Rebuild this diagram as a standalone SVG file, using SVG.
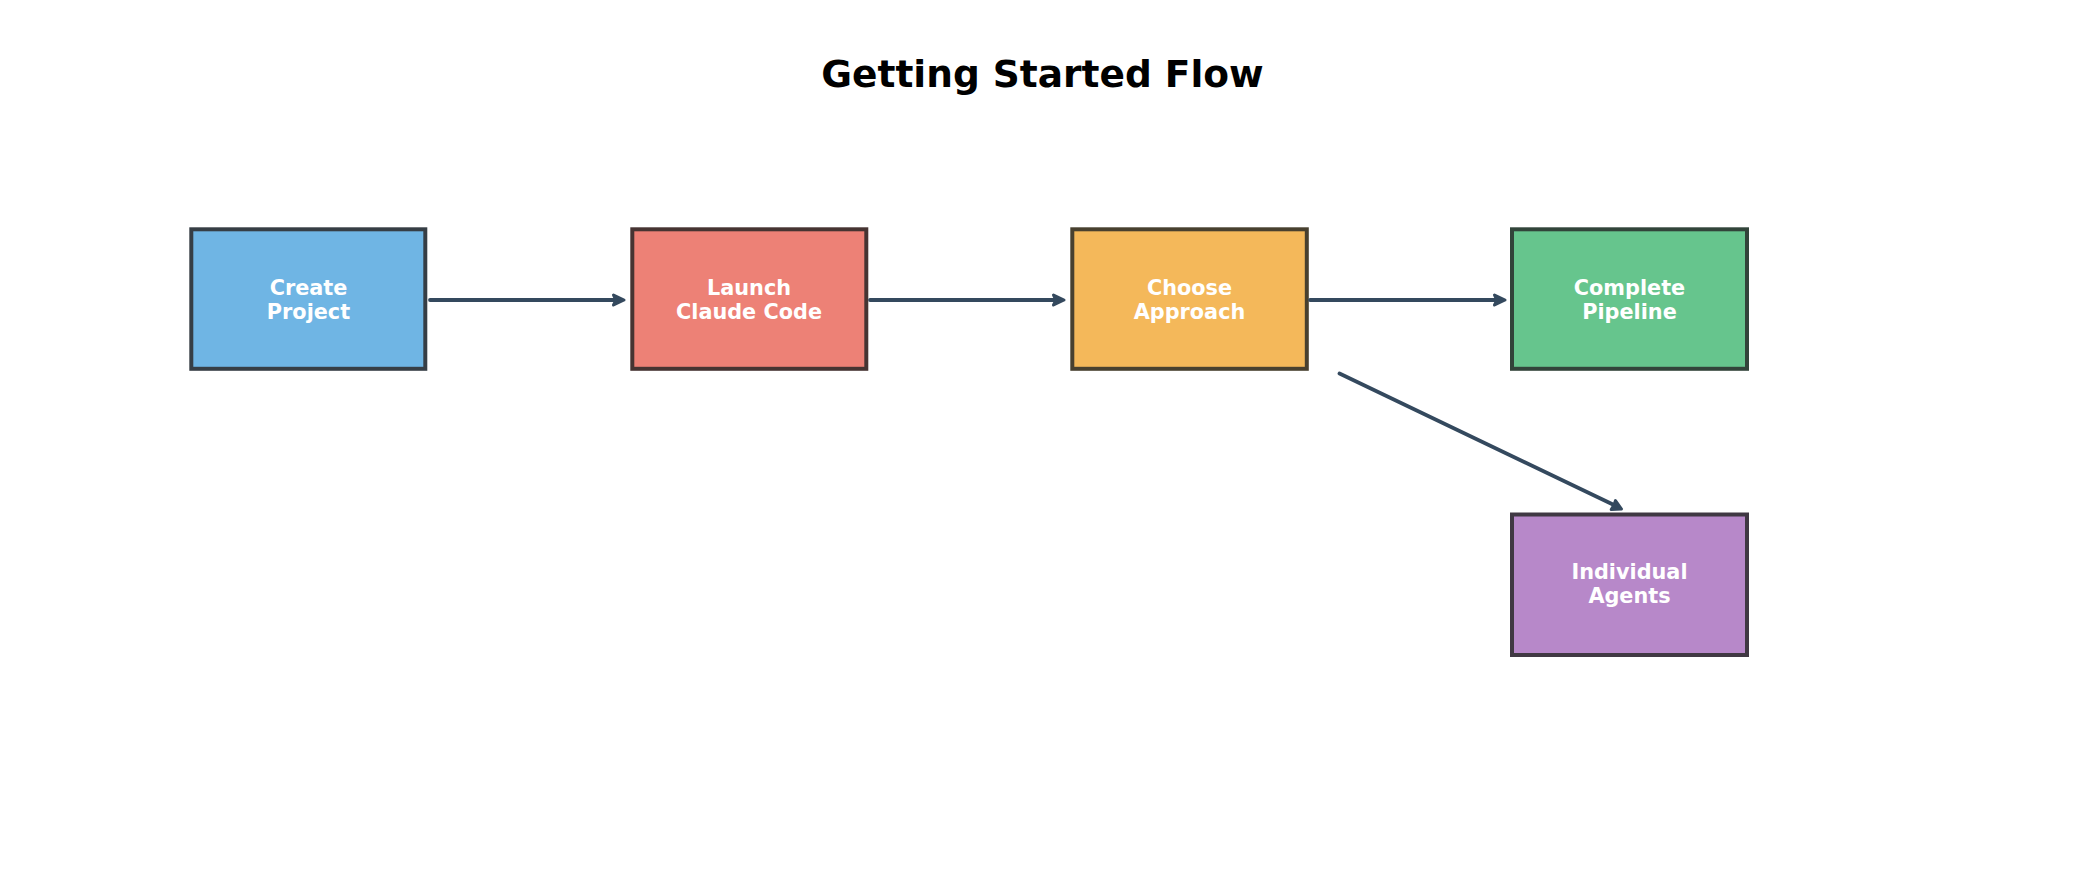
<svg xmlns="http://www.w3.org/2000/svg" width="2085" height="885" viewBox="0 0 2085 885">
<style>
.box{stroke-width:4}
.lbl{font-family:"DejaVu Sans",sans-serif;font-weight:bold;font-size:20.8px;fill:#ffffff;text-anchor:middle}
.title{font-family:"DejaVu Sans",sans-serif;font-weight:bold;font-size:37.5px;fill:#000000;text-anchor:middle}
.conn{stroke:#34495e;stroke-width:3.8;fill:none;stroke-linecap:round}
.head{stroke:#34495e;stroke-width:3;fill:#34495e;stroke-linecap:round;stroke-linejoin:round}
</style>
<rect width="2085" height="885" fill="#ffffff"/>
<text class="title" x="1042.5" y="86.5">Getting Started Flow</text>
<g id="create-project">
<rect class="box" x="191.3" y="229.3" width="234" height="139.5" fill="#6fb5e4" stroke="#363e45"/>
<text class="lbl" x="308.5" y="294.5">Create</text>
<text class="lbl" x="308.5" y="318.8">Project</text>
</g>
<g id="launch-claude-code">
<rect class="box" x="632.3" y="229.3" width="234" height="139.5" fill="#ed8176" stroke="#463432"/>
<text class="lbl" x="749" y="294.5">Launch</text>
<text class="lbl" x="749" y="318.8">Claude Code</text>
</g>
<g id="choose-approach">
<rect class="box" x="1072.3" y="229.3" width="234.5" height="139.5" fill="#f4b85a" stroke="#48402f"/>
<text class="lbl" x="1189.5" y="294.5">Choose</text>
<text class="lbl" x="1189.5" y="318.8">Approach</text>
</g>
<g id="complete-pipeline">
<rect class="box" x="1512" y="229.3" width="235" height="139.5" fill="#66c58d" stroke="#32443a"/>
<text class="lbl" x="1629.5" y="294.5">Complete</text>
<text class="lbl" x="1629.5" y="318.8">Pipeline</text>
</g>
<g id="individual-agents">
<rect class="box" x="1512" y="514.5" width="235" height="140.5" fill="#b788c9" stroke="#403843"/>
<text class="lbl" x="1629.5" y="578.8">Individual</text>
<text class="lbl" x="1629.5" y="603.2">Agents</text>
</g>
<g id="connectors">
<line class="conn" x1="430" y1="300" x2="616" y2="300"/>
<path class="head" d="M613.5,295 L624,300 L613.5,305 L616,300 Z"/>
<line class="conn" x1="870" y1="300" x2="1056" y2="300"/>
<path class="head" d="M1053.5,295 L1064,300 L1053.5,305 L1056,300 Z"/>
<line class="conn" x1="1310" y1="300" x2="1497" y2="300"/>
<path class="head" d="M1494.5,295 L1505,300 L1494.5,305 L1497,300 Z"/>
<line class="conn" x1="1339.5" y1="373.5" x2="1614" y2="505"/>
<path class="head" d="M1615.5,500.6 L1621.5,509 L1611.2,509.6 L1614,505 Z"/>
</g>
</svg>
